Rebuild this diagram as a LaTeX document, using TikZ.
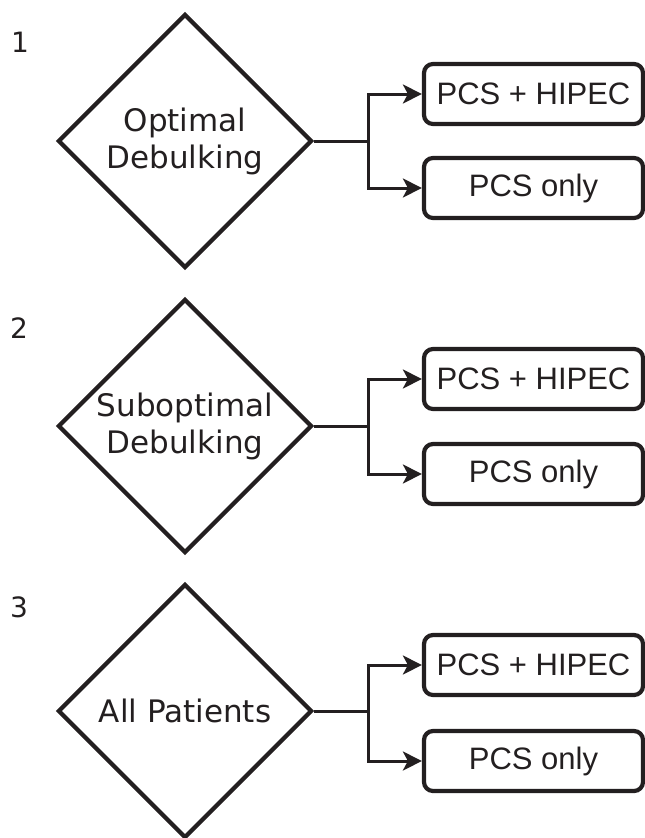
\documentclass[tikz,border=0pt]{standalone}
\usepackage{fontspec}
\setmainfont{DejaVu Sans}
\newfontfamily\boxfont{Liberation Sans}
\usetikzlibrary{shapes.geometric,arrows.meta}
\definecolor{ink}{HTML}{231F20}
\begin{document}
\begin{tikzpicture}[x=1pt,y=-1pt,
  decision/.style={draw=ink,line width=4.2pt,diamond,aspect=1,minimum width=254pt,minimum height=254pt,inner sep=0pt,
    align=center,font=\fontsize{31}{37}\selectfont,text=ink},
  outcome/.style={draw=ink,line width=4.2pt,rounded corners=9pt,minimum width=219pt,minimum height=60pt,inner sep=0pt,
    font=\boxfont\fontsize{31}{36}\selectfont,text=ink},
  numlabel/.style={font=\fontsize{28}{34}\selectfont,text=ink},
  link/.style={draw=ink,line width=3pt},
  arrowlink/.style={draw=ink,line width=3pt,-{Stealth[length=19pt,width=19pt,inset=5pt]}}]
\useasboundingbox (0,0) rectangle (645,838);
% section 1
\node[numlabel] (n1) at (20,42) {1};
\node[decision] (d1) at (185,141) {Optimal\\Debulking};
\node[outcome] (a1) at (533.5,94) {PCS + HIPEC};
\node[outcome] (b1) at (533.5,188) {PCS only};
\coordinate (j1) at (368,141);
\draw[link] (d1.east) -- (j1);
\draw[arrowlink] (j1) |- (a1.west);
\draw[arrowlink] (j1) |- (b1.west);
% section 2
\node[numlabel] (n2) at (19,328) {2};
\node[decision] (d2) at (185,426) {Suboptimal\\Debulking};
\node[outcome] (a2) at (533.5,379) {PCS + HIPEC};
\node[outcome] (b2) at (533.5,474) {PCS only};
\coordinate (j2) at (368,426);
\draw[link] (d2.east) -- (j2);
\draw[arrowlink] (j2) |- (a2.west);
\draw[arrowlink] (j2) |- (b2.west);
% section 3
\node[numlabel] (n3) at (19,607) {3};
\node[decision] (d3) at (185,711) {All Patients};
\node[outcome] (a3) at (533.5,665) {PCS + HIPEC};
\node[outcome] (b3) at (533.5,761) {PCS only};
\coordinate (j3) at (368,711);
\draw[link] (d3.east) -- (j3);
\draw[arrowlink] (j3) |- (a3.west);
\draw[arrowlink] (j3) |- (b3.west);
\end{tikzpicture}
\end{document}
